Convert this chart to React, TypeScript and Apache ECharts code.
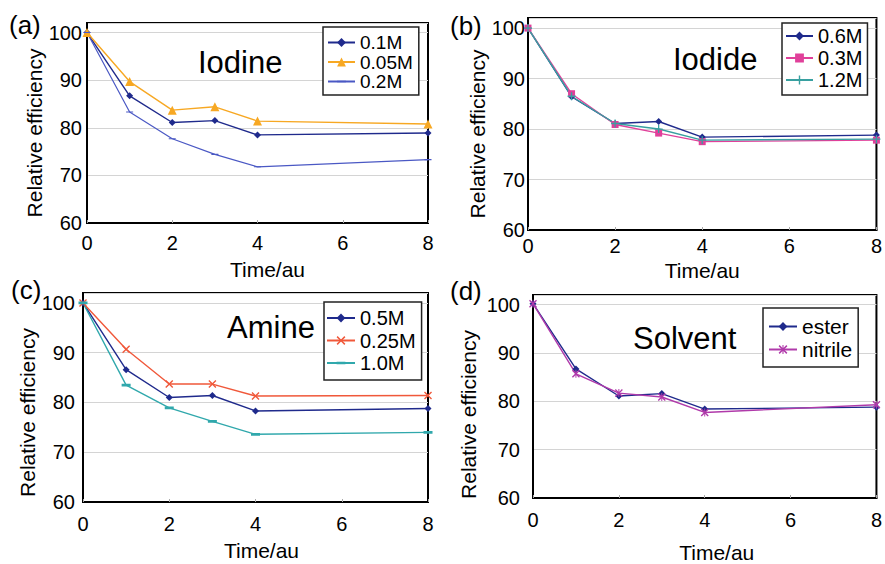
import React, { useEffect, useRef } from "react";
import * as echarts from "echarts";

// ---- Data ----
const times = [0, 1, 2, 3, 4, 8];
const xTicks = [0, 2, 4, 6, 8];
const yTicks = [60, 70, 80, 90, 100];

// (a) Iodine
const iodine01 = [100, 86.7, 81.1, 81.5, 78.5, 78.9];
const iodine005 = [100, 89.7, 83.7, 84.4, 81.4, 80.8];
const iodine02 = [100, 83.3, 77.7, 74.4, 71.8, 73.3];
// (b) Iodide
const iodide06 = [100, 86.4, 81.1, 81.5, 78.4, 78.8];
const iodide03 = [100, 87.0, 80.9, 79.2, 77.5, 77.8];
const iodide12 = [100, 86.5, 81.1, 80.0, 77.8, 78.0];
// (c) Amine
const amine05 = [100, 86.6, 81.0, 81.4, 78.3, 78.8];
const amine025 = [100, 90.7, 83.7, 83.7, 81.3, 81.4];
const amine10 = [100, 83.5, 78.9, 76.2, 73.6, 74.0];
// (d) Solvent
const solventEster = [100.2, 86.7, 81.1, 81.6, 78.4, 78.8];
const solventNitrile = [100.2, 85.7, 81.7, 80.9, 77.7, 79.3];

const panelLetters = ["(a)", "(b)", "(c)", "(d)"];
const panelTitles = ["Iodine", "Iodide", "Amine", "Solvent"];
const xName = "Time/au";
const yName = "Relative efficiency";

const FONT = "'Liberation Sans', Arial, Helvetica, sans-serif";

const PLUS = "path://M4.2,0 L5.8,0 L5.8,4.2 L10,4.2 L10,5.8 L5.8,5.8 L5.8,10 L4.2,10 L4.2,5.8 L0,5.8 L0,4.2 L4.2,4.2 Z";
const CROSS = "path://M0,1.2 L1.2,0 L5,3.8 L8.8,0 L10,1.2 L6.2,5 L10,8.8 L8.8,10 L5,6.2 L1.2,10 L0,8.8 L3.8,5 Z";
const STAR = "path://M0,1.2 L1.2,0 L5,3.8 L8.8,0 L10,1.2 L6.2,5 L10,8.8 L8.8,10 L5,6.2 L1.2,10 L0,8.8 L3.8,5 Z M4.4,0 L5.6,0 L5.6,10 L4.4,10 Z";
// dashes drawn inside a 10x10 box (degenerate corner points keep the box square)
const DASH_THIN = "path://M0,0 L0,0 Z M0,4.2 L10,4.2 L10,5.8 L0,5.8 Z M10,10 L10,10 Z";
const DASH_THICK = "path://M0,0 L0,0 Z M0,3.5 L10,3.5 L10,6.5 L0,6.5 Z M10,10 L10,10 Z";

const toPairs = (ys: number[]) => times.map((t, i) => [t, ys[i]]);

export default function App() {
  const ref = useRef<HTMLDivElement>(null);
  useEffect(() => {
    document.body.style.margin = "0";
    if (!ref.current) return;
    const chart = echarts.init(ref.current, undefined, { renderer: "svg" });

    const grids = [
      { left: 87, top: 23, width: 341, height: 200 },
      { left: 528, top: 18, width: 350, height: 212 },
      { left: 83, top: 293, width: 345, height: 209 },
      { left: 533, top: 295, width: 344, height: 205 },
    ];
    const yLabelMargin = [5, 3, 8, 13];
    const yNameGap = [40, 36, 45, 54];
    const yNameShift = [20, 20, 30, 36];
    const xLabelMargin = [10, 6, 12, 12];
    const xNameGap = [36, 30, 38, 44];
    const xNameShift = [20, 0, 12, 24];

    const xAxes = grids.map((_, i) => ({
      type: "value",
      gridIndex: i,
      min: xTicks[0],
      max: xTicks[xTicks.length - 1],
      interval: 2,
      name: xName,
      nameLocation: "middle",
      nameGap: xNameGap[i],
      nameTextStyle: {
        fontSize: 21,
        color: "#000",
        fontFamily: FONT,
        padding: [0, 0, 0, xNameShift[i]],
      },
      axisLine: { show: true, lineStyle: { color: "#000", width: 2 } },
      axisTick: { show: true, inside: true, length: 3, lineStyle: { color: "#aaa" } },
      axisLabel: { fontSize: 20, color: "#000", fontFamily: FONT, margin: xLabelMargin[i] },
      splitLine: { show: false },
    }));

    const yAxes = grids.map((_, i) => ({
      type: "value",
      gridIndex: i,
      min: yTicks[0],
      max: 102,
      interval: 10,
      name: yName,
      nameLocation: "middle",
      nameGap: yNameGap[i],
      nameRotate: 90,
      nameTextStyle: {
        fontSize: 21,
        color: "#000",
        fontFamily: FONT,
        padding: [0, yNameShift[i], 0, 0],
      },
      axisLine: { show: true, lineStyle: { color: "#000", width: 2 } },
      axisTick: { show: false },
      axisLabel: {
        fontSize: 20,
        color: "#000",
        fontFamily: FONT,
        margin: yLabelMargin[i],
        formatter: (v: number) => (yTicks.includes(v) ? String(v) : ""),
      },
      splitLine: { show: true, lineStyle: { color: "#d4d4d4", width: 1 } },
    }));

    const mk = (
      name: string,
      idx: number,
      ys: number[],
      color: string,
      symbol: string,
      symbolSize: number | number[],
      width = 1.4
    ) => ({
      name,
      type: "line",
      xAxisIndex: idx,
      yAxisIndex: idx,
      data: toPairs(ys),
      symbol,
      symbolSize,
      clip: false,
      itemStyle: { color },
      lineStyle: { color, width },
    });

    const NAVY = "#1F2A8C";
    const series = [
      mk("0.1M", 0, iodine01, NAVY, "diamond", 7),
      mk("0.05M", 0, iodine005, "#F7A823", "triangle", 9),
      mk("0.2M", 0, iodine02, "#4A58C4", DASH_THIN, 7, 1.2),
      mk("0.6M", 1, iodide06, NAVY, "diamond", 7),
      mk("0.3M", 1, iodide03, "#E0409A", "rect", 7),
      mk("1.2M", 1, iodide12, "#38A0A0", PLUS, 8),
      mk("0.5M", 2, amine05, NAVY, "diamond", 7),
      mk("0.25M", 2, amine025, "#F0583A", CROSS, 8),
      mk("1.0M", 2, amine10, "#30A8AC", DASH_THICK, 9),
      mk("ester", 3, solventEster, NAVY, "diamond", 7),
      mk("nitrile", 3, solventNitrile, "#B03AAA", STAR, 8),
    ];

    const legendBase = {
      orient: "vertical",
      borderColor: "#222",
      borderWidth: 1.5,
      backgroundColor: "#fff",
      itemHeight: 11,
      align: "left",
    };
    const legends = [
      {
        ...legendBase,
        data: ["0.1M", "0.05M", "0.2M"],
        left: 323,
        top: 27,
        padding: [6, 6, 4, 4],
        itemGap: 0.5,
        itemWidth: 27,
        textStyle: { fontSize: 19, lineHeight: 18, color: "#000", fontFamily: FONT },
      },
      {
        ...legendBase,
        data: ["0.6M", "0.3M", "1.2M"],
        left: 782,
        top: 23,
        padding: [3, 5, 5, 3],
        itemGap: 2,
        itemWidth: 27,
        textStyle: { fontSize: 20, lineHeight: 20, color: "#000", fontFamily: FONT },
      },
      {
        ...legendBase,
        data: ["0.5M", "0.25M", "1.0M"],
        left: 324,
        top: 302,
        padding: [6, 6, 7, 2],
        itemGap: 2.5,
        itemWidth: 28,
        textStyle: { fontSize: 20, lineHeight: 20, color: "#000", fontFamily: FONT },
      },
      {
        ...legendBase,
        data: ["ester", "nitrile"],
        left: 763,
        top: 308,
        padding: [8, 6, 7, 5],
        itemGap: 2,
        itemWidth: 28,
        textStyle: { fontSize: 21, lineHeight: 21, color: "#000", fontFamily: FONT },
      },
    ];

    const letterPos = [
      [9, 25],
      [450, 26],
      [11, 290],
      [450, 291],
    ];
    const titlePos = [
      [198, 62],
      [673, 59],
      [227, 327],
      [633, 338],
    ];
    const graphics: any[] = [];
    panelLetters.forEach((t, i) => {
      graphics.push({
        type: "text",
        x: letterPos[i][0],
        y: letterPos[i][1],
        z: 100,
        style: {
          text: t,
          fontSize: 26,
          fontFamily: FONT,
          fill: "#000",
          verticalAlign: "middle",
          align: "left",
        },
      });
    });
    panelTitles.forEach((t, i) => {
      graphics.push({
        type: "text",
        x: titlePos[i][0],
        y: titlePos[i][1],
        z: 100,
        style: {
          text: t,
          fontSize: 31,
          fontFamily: FONT,
          fill: "#000",
          verticalAlign: "middle",
          align: "left",
        },
      });
    });

    chart.setOption({
      animation: false,
      backgroundColor: "#fff",
      textStyle: { fontFamily: FONT },
      grid: grids.map((g) => ({
        ...g,
        show: true,
        borderColor: "#000",
        borderWidth: 2,
        backgroundColor: "transparent",
      })),
      xAxis: xAxes,
      yAxis: yAxes,
      legend: legends,
      series,
      graphic: graphics,
    } as any);

    return () => chart.dispose();
  }, []);

  return (
    <div
      ref={ref}
      style={{ position: "absolute", left: 0, top: 0, width: 885, height: 564 }}
    />
  );
}
